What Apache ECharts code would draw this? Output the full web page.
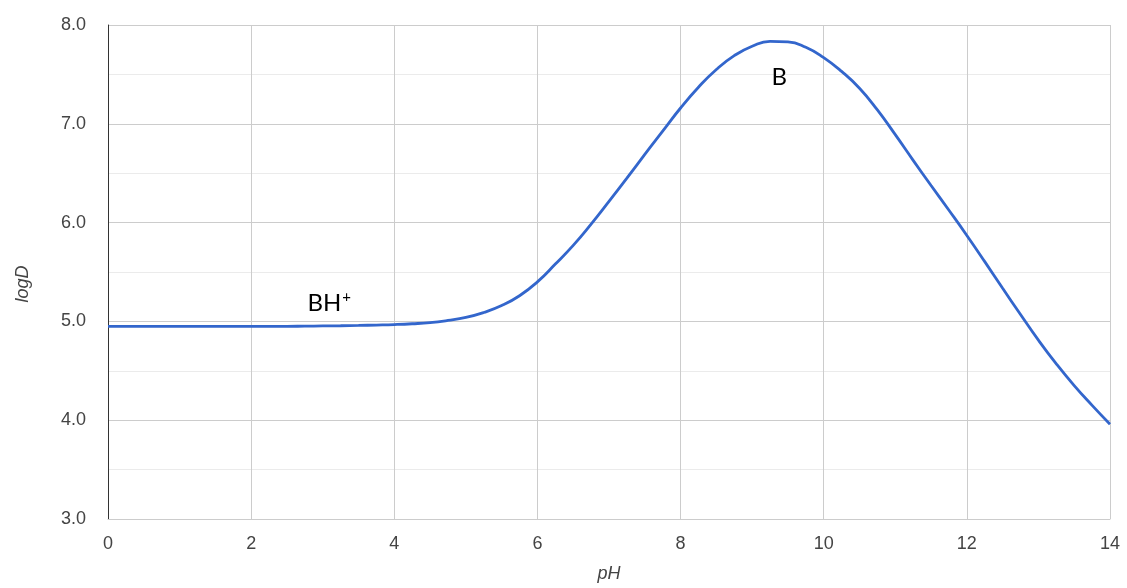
<!DOCTYPE html>
<html>
<head>
<meta charset="utf-8">
<script src="https://cdn.jsdelivr.net/npm/echarts@6/dist/echarts.min.js"></script>
<style>
  html, body { margin: 0; padding: 0; background: #ffffff; }
  #chart { width: 1127px; height: 588px; }
</style>
</head>
<body>
<div id="chart"></div>
<script>
// pH values (0.25 steps) and the distribution coefficient (log D) of the base
const phValues = [
  0, 0.25, 0.5, 0.75, 1, 1.25, 1.5, 1.75, 2, 2.25, 2.5, 2.75,
  3, 3.25, 3.5, 3.75, 4, 4.25, 4.5, 4.75, 5, 5.25, 5.5, 5.75,
  6, 6.25, 6.5, 6.75, 7, 7.25, 7.5, 7.75, 8, 8.25, 8.5, 8.75,
  9, 9.25, 9.5, 9.75, 10, 10.25, 10.5, 10.75, 11, 11.25, 11.5, 11.75,
  12, 12.25, 12.5, 12.75, 13, 13.25, 13.5, 13.75, 14
];
const logDValues = [
  4.95, 4.95, 4.95, 4.95, 4.95, 4.95, 4.95, 4.95, 4.95, 4.95, 4.95, 4.952,
  4.954, 4.956, 4.959, 4.963, 4.968, 4.976, 4.988, 5.01, 5.04, 5.09, 5.16, 5.26,
  5.40, 5.58, 5.77, 5.985, 6.215, 6.45, 6.69, 6.925, 7.16, 7.37, 7.55, 7.69,
  7.785, 7.835, 7.83, 7.775, 7.67, 7.53, 7.36, 7.14, 6.89, 6.63, 6.375, 6.125,
  5.87, 5.605, 5.335, 5.07, 4.81, 4.57, 4.35, 4.15, 3.96
];

// Species labels drawn on the plot
const speciesLabels = [
  { ph: 3.09, logD: 5.18, text: '{m|BH}{s|+}' },
  { ph: 9.38, logD: 7.47, text: '{m|B}' }
];

const xTicks = { min: 0, max: 14, step: 2 };
const yTicks = { min: 3, max: 8, step: 1 };

const chart = echarts.init(document.getElementById('chart'), null, { renderer: 'canvas' });

const labelFont = 'Liberation Sans, Arial, sans-serif';
const speciesFont = 'Lato, Open Sans, sans-serif';

chart.setOption({
  animation: false,
  backgroundColor: '#ffffff',
  grid: { left: 108, right: 17, top: 25, bottom: 66, containLabel: false },
  xAxis: {
    type: 'value',
    min: xTicks.min,
    max: xTicks.max,
    interval: xTicks.step,
    name: 'pH',
    nameLocation: 'middle',
    nameGap: 46,
    nameTextStyle: { fontFamily: labelFont, fontSize: 18, fontStyle: 'italic', color: '#444444' },
    axisLine: { show: true, onZero: false, lineStyle: { color: '#cccccc', width: 1 } },
    axisTick: { show: false },
    axisLabel: { fontFamily: labelFont, fontSize: 18, color: '#444444', margin: 16 },
    splitLine: { show: true, lineStyle: { color: '#cccccc', width: 1 } }
  },
  yAxis: {
    type: 'value',
    min: yTicks.min,
    max: yTicks.max,
    interval: yTicks.step,
    name: 'logD',
    nameLocation: 'middle',
    nameGap: 76,
    nameTextStyle: {
      fontFamily: labelFont, fontSize: 18, fontStyle: 'italic', color: '#444444',
      padding: [0, 24, 0, 0]
    },
    axisLine: { show: true, lineStyle: { color: '#333333', width: 1 } },
    axisTick: { show: false },
    axisLabel: {
      fontFamily: labelFont, fontSize: 18, color: '#444444', margin: 22,
      formatter: v => v.toFixed(1)
    },
    splitLine: { show: true, lineStyle: { color: '#cccccc', width: 1 } },
    minorTick: { show: false, splitNumber: 2 },
    minorSplitLine: { show: true, lineStyle: { color: '#ebebeb', width: 1 } }
  },
  series: [{
    type: 'line',
    data: phValues.map((p, i) => [p, logDValues[i]]),
    smooth: 0.5,
    showSymbol: false,
    lineStyle: { color: '#3366cc', width: 2.8 },
    itemStyle: { color: '#3366cc' },
    markPoint: {
      symbol: 'circle',
      symbolSize: 0,
      silent: true,
      label: {
        show: true,
        position: 'inside',
        formatter: p => p.data.text,
        rich: {
          m: { fontFamily: speciesFont, fontSize: 24, color: '#000000', lineHeight: 28 },
          s: { fontFamily: speciesFont, fontSize: 15, color: '#000000', verticalAlign: 'top', lineHeight: 28, padding: [0, 0, 10, 1] }
        }
      },
      data: speciesLabels.map(l => ({ coord: [l.ph, l.logD], text: l.text }))
    }
  }]
});
</script>
</body>
</html>
